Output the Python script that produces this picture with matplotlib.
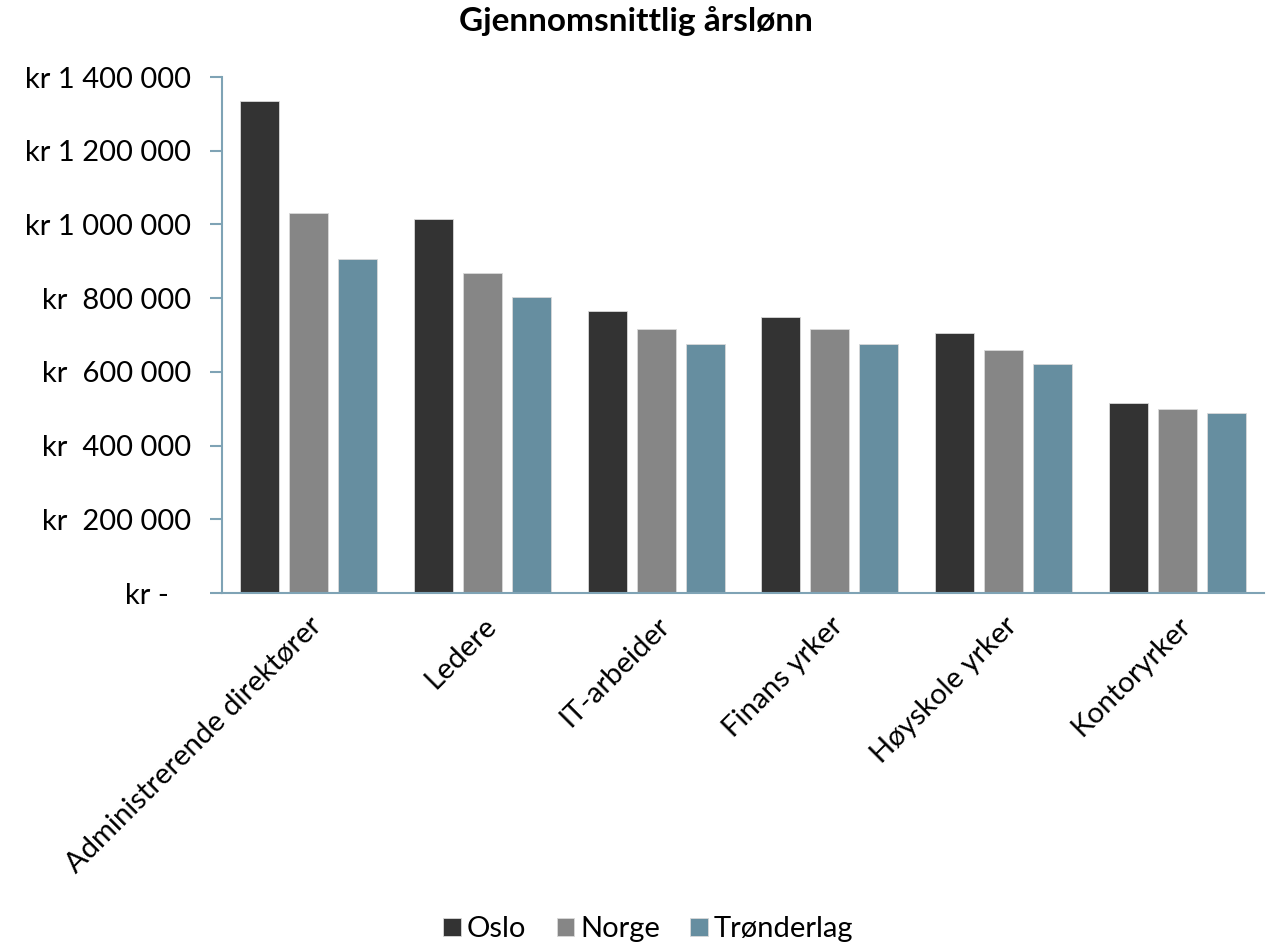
import numpy as np
import matplotlib.pyplot as plt

plt.rcParams['font.family'] = ['Lato', 'DejaVu Sans']

yrker = ['Administrerende direktører', 'Ledere', 'IT-arbeider',
         'Finans yrker', 'Høyskole yrker', 'Kontoryrker']
oslo = [1335000, 1015000, 765000, 749000, 705000, 516000]
norge = [1031000, 868000, 716000, 716000, 659000, 499000]
trondelag = [906000, 803000, 676000, 676000, 621000, 488000]

serier = ['Oslo', 'Norge', 'Trønderlag']
farger = ['#333333', '#868686', '#668ea0']

y_ticks = [0, 200000, 400000, 600000, 800000, 1000000, 1200000, 1400000]
y_labels = ['kr -   ', 'kr  200 000', 'kr  400 000', 'kr  600 000',
            'kr  800 000', 'kr 1 000 000', 'kr 1 200 000', 'kr 1 400 000']

fig = plt.figure(figsize=(12.71, 9.44), dpi=100)
ax = fig.add_axes([0.1747, 0.3718, 0.8198, 0.5466])

x = np.arange(len(yrker))
width = 0.224
step = 0.282
for i, (navn, verdier) in enumerate(zip(serier, [oslo, norge, trondelag])):
    ax.bar(x + (i - 1) * step, verdier, width=width, color=farger[i],
           edgecolor='#d9d9d9', linewidth=0.6, label=navn)

ax.set_xlim(-0.5, len(yrker) - 0.5)
ax.set_ylim(0, 1400000)
ax.set_yticks(y_ticks)
ax.set_yticklabels(y_labels, fontsize=21)
ax.set_xticks(x)
ax.set_xticklabels(yrker, fontsize=21, rotation=45, ha='right',
                   rotation_mode='anchor')

axis_col = '#7fa3b5'
for side in ['top', 'right']:
    ax.spines[side].set_visible(False)
ax.spines['left'].set_color(axis_col)
ax.spines['bottom'].set_color(axis_col)
ax.spines['left'].set_linewidth(1.5)
ax.spines['bottom'].set_linewidth(1.5)
ax.tick_params(axis='y', color=axis_col, length=9, width=1.5, pad=13)
ax.tick_params(axis='x', length=0, pad=14)

fig.suptitle('Gjennomsnittlig årslønn', fontsize=24, fontweight='bold',
             y=0.994)

fig.legend(loc='lower center', bbox_to_anchor=(0.51, -0.026), ncol=3,
           frameon=False, fontsize=21, handlelength=0.6, handleheight=0.6,
           handletextpad=0.2, columnspacing=1.05)

fig.savefig('out.png', dpi=100)
